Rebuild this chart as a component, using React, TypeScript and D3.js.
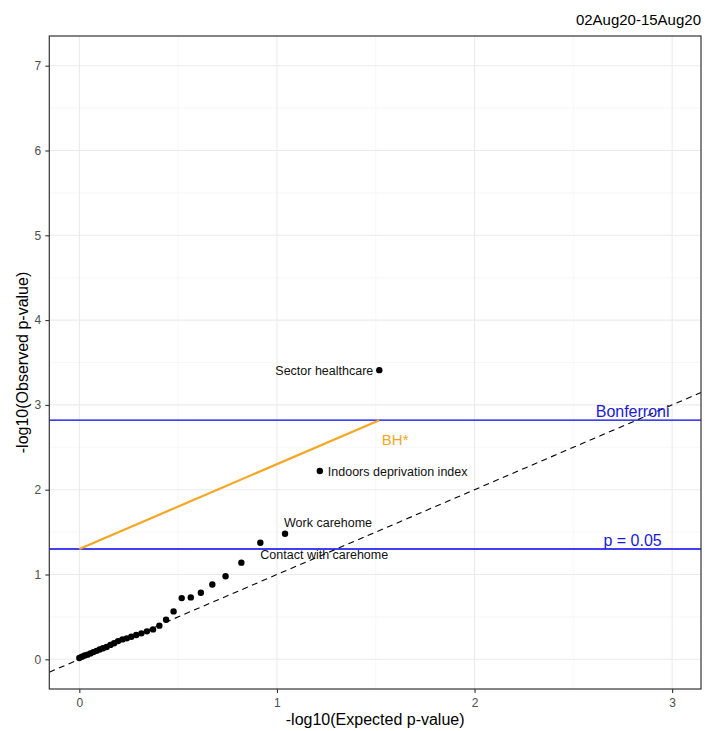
import React, { useRef, useEffect } from 'react';
import * as d3 from 'd3';

// -log10 expected p-values (33 tests, sorted by rank)
const expectedP = [
  1.518, 1.217, 1.041, 0.916, 0.82, 0.74, 0.673, 0.615, 0.564, 0.518, 0.477,
  0.439, 0.405, 0.373, 0.342, 0.314, 0.288, 0.263, 0.24, 0.218, 0.196, 0.176,
  0.157, 0.138, 0.12, 0.103, 0.087, 0.071, 0.056, 0.041, 0.027, 0.013, 0
];
// -log10 observed p-values, same order
const observedP = [
  3.41, 2.22, 1.48, 1.375, 1.14, 0.98, 0.883, 0.785, 0.73, 0.722, 0.565,
  0.467, 0.397, 0.353, 0.33, 0.306, 0.286, 0.267, 0.247, 0.235, 0.215, 0.19,
  0.17, 0.145, 0.13, 0.115, 0.1, 0.085, 0.07, 0.055, 0.045, 0.03, 0.015
];
const pointLabels = ['Sector healthcare', 'Indoors deprivation index', 'Work carehome', 'Contact with carehome'];
const xTicks = [0, 1, 2, 3];
const yTicks = [0, 1, 2, 3, 4, 5, 6, 7];
const alpha = 0.05;
const nTests = 33;
const title = '02Aug20-15Aug20';

const W = 705;
const H = 731;
const FONT = '"Liberation Sans", Arial, sans-serif';

const App: React.FC = () => {
  const svgRef = useRef<SVGSVGElement>(null);

  useEffect(() => {
    if (!svgRef.current) return;
    const svg = d3.select(svgRef.current);
    svg.selectAll('*').remove();

    const left = 49.3, right = 701, top = 36, bottom = 689;

    const x = d3.scaleLinear().domain([-0.152, 3.146]).range([left, right]);
    const y = d3.scaleLinear().domain([-0.35, 7.35]).range([bottom, top]);

    const bonf = -Math.log10(alpha / nTests);
    const p05 = -Math.log10(alpha);
    const maxExp = d3.max(expectedP) as number;

    svg.append('rect').attr('width', W).attr('height', H).attr('fill', '#fff');

    // grid
    const grid = svg.append('g');
    const minorX = [0.5, 1.5, 2.5];
    const minorY = d3.range(0.5, 7.5, 1);
    grid.selectAll('.mx').data(minorX).join('line')
      .attr('x1', d => x(d)).attr('x2', d => x(d)).attr('y1', top).attr('y2', bottom)
      .attr('stroke', '#f2f2f2').attr('stroke-width', 0.6);
    grid.selectAll('.my').data(minorY).join('line')
      .attr('y1', d => y(d)).attr('y2', d => y(d)).attr('x1', left).attr('x2', right)
      .attr('stroke', '#f2f2f2').attr('stroke-width', 0.6);
    grid.selectAll('.gx').data(xTicks).join('line')
      .attr('x1', d => x(d)).attr('x2', d => x(d)).attr('y1', top).attr('y2', bottom)
      .attr('stroke', '#ebebeb').attr('stroke-width', 1.1);
    grid.selectAll('.gy').data(yTicks).join('line')
      .attr('y1', d => y(d)).attr('y2', d => y(d)).attr('x1', left).attr('x2', right)
      .attr('stroke', '#ebebeb').attr('stroke-width', 1.1);

    const plot = svg.append('g');

    // threshold lines
    plot.append('line')
      .attr('x1', left).attr('x2', right).attr('y1', y(bonf)).attr('y2', y(bonf))
      .attr('stroke', '#0000ee').attr('stroke-width', 1.3);
    plot.append('line')
      .attr('x1', left).attr('x2', right).attr('y1', y(p05)).attr('y2', y(p05))
      .attr('stroke', '#0000ee').attr('stroke-width', 1.3);

    // BH line
    plot.append('line')
      .attr('x1', x(0)).attr('y1', y(p05))
      .attr('x2', x(maxExp)).attr('y2', y(p05 + maxExp))
      .attr('stroke', '#f5a623').attr('stroke-width', 2.2);

    // identity line
    const [d0, d1] = x.domain();
    plot.append('line')
      .attr('x1', x(d0)).attr('y1', y(d0)).attr('x2', x(d1)).attr('y2', y(d1))
      .attr('stroke', '#000').attr('stroke-width', 1.1).attr('stroke-dasharray', '6,4.5');

    // points
    plot.selectAll('circle').data(expectedP).join('circle')
      .attr('cx', d => x(d)).attr('cy', (_, i) => y(observedP[i]))
      .attr('r', 3.2).attr('fill', '#000');

    // point labels
    const labelLayout = [
      { dx: -6, dy: 4.5, anchor: 'end' },
      { dx: 8, dy: 4.5, anchor: 'start' },
      { dx: -1, dy: -7, anchor: 'start' },
      { dx: 0, dy: 16, anchor: 'start' }
    ];
    pointLabels.forEach((t, i) => {
      const l = labelLayout[i];
      plot.append('text')
        .attr('x', x(expectedP[i]) + l.dx).attr('y', y(observedP[i]) + l.dy)
        .attr('text-anchor', l.anchor)
        .style('font-family', FONT).style('font-size', '12.5px').attr('fill', '#111')
        .text(t);
    });

    // threshold labels
    plot.append('text')
      .attr('x', x(2.8)).attr('y', y(bonf) - 3)
      .attr('text-anchor', 'middle').attr('fill', '#1a1ad8')
      .style('font-family', FONT).style('font-size', '16px').text('Bonferroni');
    plot.append('text')
      .attr('x', x(2.8)).attr('y', y(p05) - 3)
      .attr('text-anchor', 'middle').attr('fill', '#1a1ad8')
      .style('font-family', FONT).style('font-size', '16px').text('p = 0.05');
    plot.append('text')
      .attr('x', x(maxExp) + 2.5).attr('y', y(bonf) + 25)
      .attr('text-anchor', 'start').attr('fill', '#f5a623')
      .style('font-family', FONT).style('font-size', '15px').text('BH*');

    // panel border
    svg.append('rect')
      .attr('x', left).attr('y', top).attr('width', right - left).attr('height', bottom - top)
      .attr('fill', 'none').attr('stroke', '#333').attr('stroke-width', 1.2);

    // axes
    const xAxis = d3.axisBottom(x).tickValues(xTicks).tickSize(4).tickFormat(d3.format('d'));
    const gx = svg.append('g').attr('transform', `translate(0,${bottom})`).call(xAxis);
    const yAxis = d3.axisLeft(y).tickValues(yTicks).tickSize(4).tickFormat(d3.format('d'));
    const gy = svg.append('g').attr('transform', `translate(${left},0)`).call(yAxis);
    [gx, gy].forEach(g => {
      g.select('.domain').remove();
      g.selectAll('.tick line').attr('stroke', '#333').attr('stroke-width', 1.1);
      g.selectAll('.tick text')
        .style('font-family', FONT).style('font-size', '12px').attr('fill', '#4d4d4d');
    });
    gx.selectAll('.tick text').attr('dy', '0.95em');
    gy.selectAll('.tick text').attr('x', -8);

    // titles
    svg.append('text')
      .attr('x', (left + right) / 2).attr('y', 725)
      .attr('text-anchor', 'middle').attr('fill', '#000')
      .style('font-family', FONT).style('font-size', '16px')
      .text('-log10(Expected p-value)');
    svg.append('text')
      .attr('transform', `translate(28,${(top + bottom) / 2}) rotate(-90)`)
      .attr('text-anchor', 'middle').attr('fill', '#000')
      .style('font-family', FONT).style('font-size', '16px')
      .text('-log10(Observed p-value)');
    svg.append('text')
      .attr('x', right).attr('y', 25)
      .attr('text-anchor', 'end').attr('fill', '#000')
      .style('font-family', FONT).style('font-size', '15px')
      .text(title);
  }, []);

  return (
    <svg
      ref={svgRef}
      width={W}
      height={H}
      style={{ position: 'absolute', left: 0, top: 0, display: 'block' }}
    />
  );
};

export default App;
